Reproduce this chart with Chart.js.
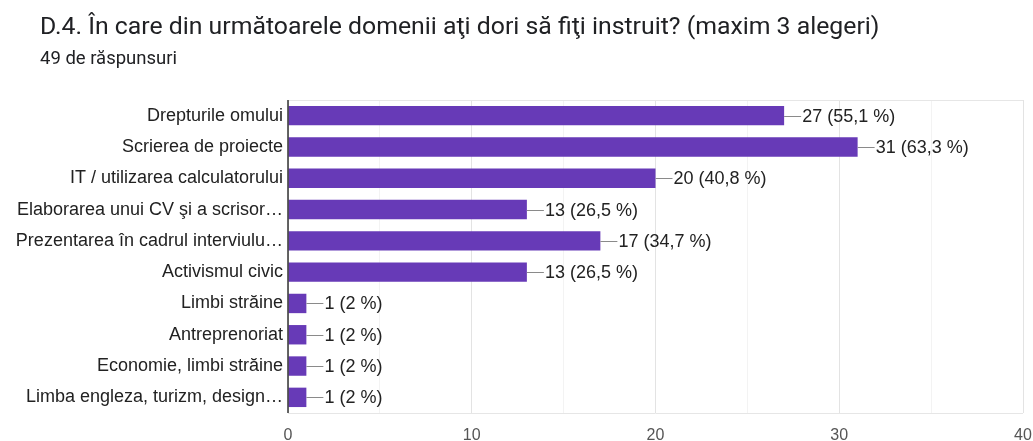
<!DOCTYPE html>
<html>
<head>
<meta charset="utf-8">
<script src="https://cdn.jsdelivr.net/npm/chart.js@4"></script>
<style>
  html, body { margin: 0; padding: 0; background: #fff; }
  #wrap { position: relative; width: 1033px; height: 441px; overflow: hidden; }
  #c { position: absolute; left: 0; top: 0; }
  .t { position: absolute; left: 40px; font-family: Roboto, "Noto Sans", sans-serif; color: #202124; white-space: nowrap; line-height: 1; }
  #title { top: 14px; font-size: 24.8px; }
  #sub { top: 49px; font-size: 18.5px; }
</style>
</head>
<body>
<div id="wrap">
  <canvas id="c" width="1033" height="441"></canvas>
  <div class="t" id="title">D.4. În care din următoarele domenii aţi dori să fiţi instruit? (maxim 3 alegeri)</div>
  <div class="t" id="sub">49 de răspunsuri</div>
</div>
<script>
const categories = [
  "Drepturile omului",
  "Scrierea de proiecte",
  "IT / utilizarea calculatorului",
  "Elaborarea unui CV şi a scrisor…",
  "Prezentarea în cadrul interviulu…",
  "Activismul civic",
  "Limbi străine",
  "Antreprenoriat",
  "Economie, limbi străine",
  "Limba engleza, turizm, design…"
];
const counts = [27, 31, 20, 13, 17, 13, 1, 1, 1, 1];
const percents = ["55,1", "63,3", "40,8", "26,5", "34,7", "26,5", "2", "2", "2", "2"];
const xTicks = [0, 10, 20, 30, 40];

const FONT = '"Liberation Sans", Arial, sans-serif';

const valueLabels = {
  id: 'valueLabels',
  afterDatasetsDraw(chart) {
    const ctx = chart.ctx;
    const meta = chart.getDatasetMeta(0);
    ctx.save();
    meta.data.forEach((bar, i) => {
      const x = bar.x, y = bar.y;
      ctx.strokeStyle = '#8a8a8a';
      ctx.lineWidth = 1;
      ctx.beginPath();
      ctx.moveTo(x, Math.round(y) + 0.5);
      ctx.lineTo(x + 17, Math.round(y) + 0.5);
      ctx.stroke();
      ctx.fillStyle = '#222222';
      ctx.font = '18px ' + FONT;
      ctx.textAlign = 'left';
      ctx.textBaseline = 'middle';
      ctx.fillText(counts[i] + ' (' + percents[i] + ' %)', x + 18, y + 1);
    });
    ctx.restore();
  }
};

const frame = {
  id: 'frame',
  beforeDatasetsDraw(chart) {
    const a = chart.chartArea, ctx = chart.ctx;
    ctx.save();
    ctx.strokeStyle = '#e6e6e6';
    ctx.lineWidth = 1;
    ctx.beginPath();
    ctx.moveTo(a.left, Math.round(a.top) + 0.5);
    ctx.lineTo(a.right, Math.round(a.top) + 0.5);
    ctx.moveTo(a.left, Math.round(a.bottom) + 0.5);
    ctx.lineTo(a.right, Math.round(a.bottom) + 0.5);
    ctx.stroke();
    ctx.restore();
  },
  afterDatasetsDraw(chart) {
    const a = chart.chartArea, ctx = chart.ctx;
    ctx.save();
    ctx.strokeStyle = '#333333';
    ctx.lineWidth = 1.5;
    ctx.beginPath();
    ctx.moveTo(a.left, a.top);
    ctx.lineTo(a.left, a.bottom);
    ctx.stroke();
    ctx.restore();
  }
};

new Chart(document.getElementById('c'), {
  type: 'bar',
  data: {
    labels: categories,
    datasets: [{
      data: counts,
      backgroundColor: '#673ab7',
      borderWidth: 0,
      barPercentage: 0.62,
      categoryPercentage: 1.0
    }]
  },
  options: {
    indexAxis: 'y',
    responsive: false,
    animation: false,
    devicePixelRatio: 1,
    layout: { padding: { top: 100, right: 0, bottom: 0, left: 0 } },
    plugins: {
      legend: { display: false },
      tooltip: { enabled: false },
      title: { display: false }
    },
    scales: {
      x: {
        min: 0,
        max: 40,
        afterBuildTicks(axis) {
          const t = [];
          for (let v = 0; v <= 40; v += 5) t.push({ value: v });
          axis.ticks = t;
        },
        afterFit(axis) {
          axis.height = 28;
          axis.paddingRight = 10;
          axis.paddingLeft = 0;
        },
        ticks: {
          padding: 13,
          color: '#555555',
          font: { family: FONT, size: 16 },
          maxRotation: 0,
          autoSkip: false,
          callback: (v) => xTicks.includes(v) ? String(v) : ''
        },
        grid: {
          drawTicks: false,
          color: (c) => (c.tick && c.tick.value % 10 === 0) ? '#e3e3e3' : '#f3f3f3',
          lineWidth: 1
        },
        border: { display: false }
      },
      y: {
        afterFit(axis) { axis.width = 288; },
        ticks: {
          padding: 5,
          color: '#222222',
          font: { family: FONT, size: 18 },
          autoSkip: false
        },
        grid: { display: false, drawTicks: false },
        border: { display: false }
      }
    }
  },
  plugins: [frame, valueLabels]
});
</script>
</body>
</html>
